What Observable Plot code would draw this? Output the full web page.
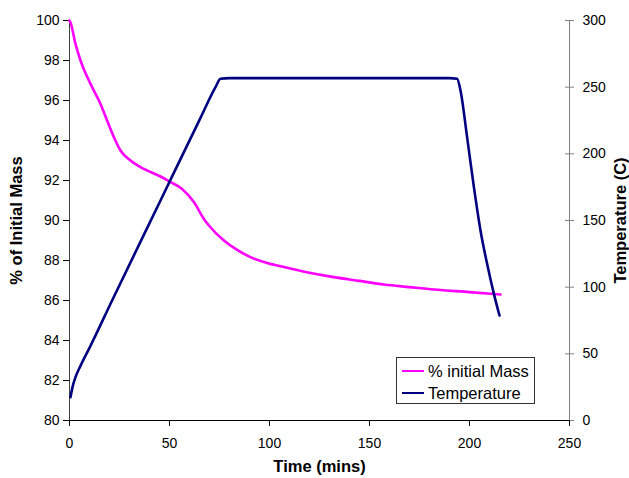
<!DOCTYPE html>
<html>
<head>
<meta charset="utf-8">
<script src="https://cdn.jsdelivr.net/npm/d3@7"></script>
<script src="https://cdn.jsdelivr.net/npm/@observablehq/plot@0.6"></script>
<style>
  html, body { margin: 0; padding: 0; background: #fff; }
  #chart { position: relative; width: 629px; height: 478px; font-family: "Liberation Sans", Arial, sans-serif; }
  #chart svg { display: block; }
  .legend { position: absolute; left: 396px; top: 357px; width: 137px; height: 45px;
            border: 1px solid #333; background: #fff; font-size: 16.5px; color: #000; }
  .legend .row { position: absolute; left: 5px; height: 20px; display: flex; align-items: center; }
  .legend .swatch { width: 22px; height: 2px; margin-right: 4px; }
</style>
</head>
<body>
<div id="chart"></div>
<script>
// Thermogravimetric run: mass loss and furnace temperature against time
const massTime = [0, 0.5, 3, 5.5, 10.5, 15.5, 18.8, 22.2, 25.5, 30.5, 37.2, 45.5, 50.5, 56.3, 62.2, 67.2, 69.7, 77.2, 83.8, 90.5, 98, 107.2, 118, 132.2, 145, 157.2, 170, 182.2, 200, 215.5];
const massPct  = [100, 99.9, 98.83, 98, 96.83, 95.83, 95, 94.17, 93.5, 93, 92.58, 92.2, 91.92, 91.58, 90.92, 90.08, 89.75, 89, 88.53, 88.17, 87.9, 87.67, 87.43, 87.17, 86.98, 86.8, 86.67, 86.55, 86.42, 86.3];

const tempTime = [0.5, 1.5, 3, 5.5, 10.5, 21.3, 45.5, 65.5, 73, 75.5, 80, 100, 150, 190, 193.8, 195.5, 198.8, 202.2, 205.5, 208.8, 212.2, 215];
const tempC    = [17.5, 25, 32.5, 41, 56, 90, 165, 227, 250, 256.3, 256.8, 256.8, 256.8, 256.8, 256.3, 247.5, 212.5, 175, 142.5, 117.5, 95, 78.75];

const timeTicks = [0, 50, 100, 150, 200, 250];
const massTicks = [80, 82, 84, 86, 88, 90, 92, 94, 96, 98, 100];
const tempTicks = [0, 50, 100, 150, 200, 250, 300];

const seriesNames = ["% initial Mass", "Temperature"];
const seriesColors = ["#FF00FF", "#000080"];

// Temperature (0–300 C) shares the mass scale (80–100 %)
const tempToMass = t => 80 + t / 15;
const massToTemp = m => Math.round((m - 80) * 15);

const massData = massTime.map((t, i) => ({time: t, value: massPct[i]}));
const tempData = tempTime.map((t, i) => ({time: t, value: tempToMass(tempC[i])}));
const tempTickPos = tempTicks.map(tempToMass);

const chart = Plot.plot({
  width: 629,
  height: 478,
  marginLeft: 69,
  marginRight: 60,
  marginTop: 20,
  marginBottom: 58,
  style: {fontFamily: "Liberation Sans, Arial, sans-serif", fontSize: "14px", color: "#000", background: "#fff"},
  x: {domain: [0, 250]},
  y: {domain: [80, 100]},
  marks: [
    Plot.axisX({ticks: timeTicks, tickSize: 6, tickPadding: 12, label: "Time (mins)", labelAnchor: "center",
                labelArrow: "none", labelOffset: 51}),
    Plot.axisY({ticks: massTicks, tickSize: 6, tickPadding: 4, label: "% of Initial Mass", labelAnchor: "center",
                labelArrow: "none", labelOffset: 59}),
    Plot.axisY({anchor: "right", ticks: tempTickPos, tickFormat: massToTemp, tickSize: 4, tickPadding: 9,
                stroke: "#808080", label: "Temperature (C)", labelAnchor: "center", labelArrow: "none", labelOffset: 56}),
    Plot.ruleY(tempTickPos, {x1: 248, x2: 250, stroke: "#808080"}),
    Plot.ruleX([0], {stroke: "#404040"}),
    Plot.ruleX([250], {stroke: "#808080", y1: 80, y2: 100}),
    Plot.ruleY([80], {stroke: "#000"}),
    Plot.line(massData, {x: "time", y: "value", stroke: seriesColors[0], strokeWidth: 2.6, curve: "monotone-x"}),
    Plot.line(tempData, {x: "time", y: "value", stroke: seriesColors[1], strokeWidth: 2.6, curve: "monotone-x"})
  ]
});

// Bold axis titles
d3.select(chart).selectAll("g[aria-label='x-axis label'] text, g[aria-label='y-axis label'] text")
  .attr("font-weight", "bold").attr("font-size", "16.5px");

const root = document.getElementById("chart");
root.appendChild(chart);

// Legend box inside the plot frame
const legend = document.createElement("div");
legend.className = "legend";
seriesNames.forEach((name, i) => {
  const row = document.createElement("div");
  row.className = "row";
  row.style.top = (3 + i * 22) + "px";
  const sw = document.createElement("div");
  sw.className = "swatch";
  sw.style.background = seriesColors[i];
  const label = document.createElement("span");
  label.textContent = name;
  row.appendChild(sw);
  row.appendChild(label);
  legend.appendChild(row);
});
root.appendChild(legend);
</script>
</body>
</html>
